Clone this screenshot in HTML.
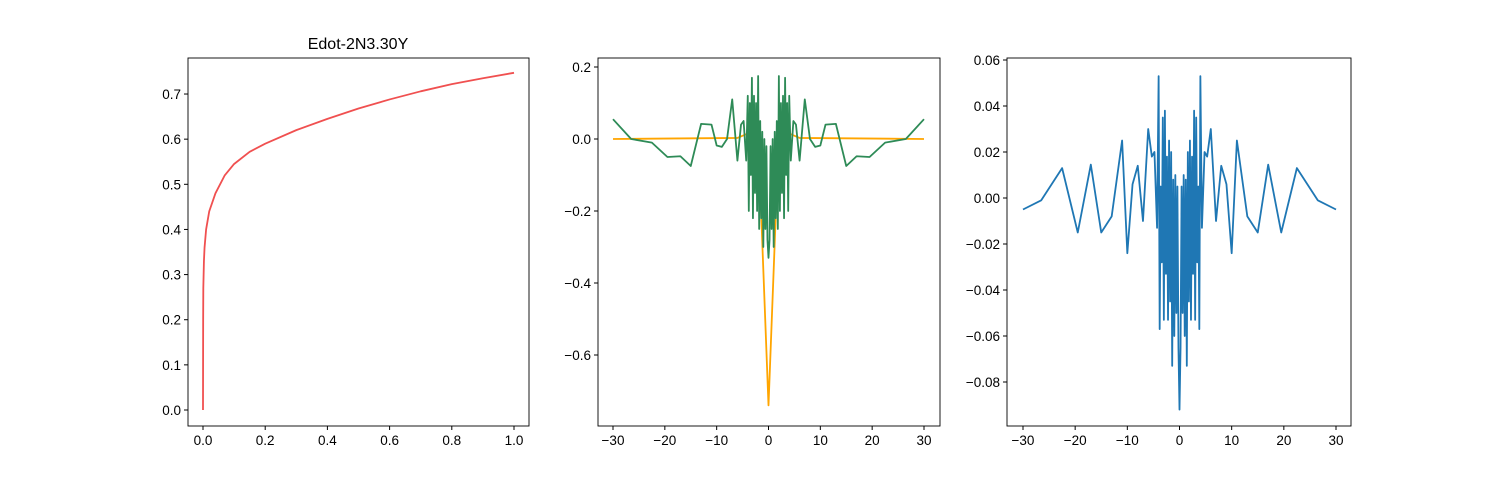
<!DOCTYPE html>
<html><head><meta charset="utf-8"><style>
body{margin:0;background:#fff}
svg text{font-family:"Liberation Sans","DejaVu Sans",sans-serif;font-size:13.5px;fill:#000}
</style></head><body>
<svg id="c" width="1500" height="480"></svg>
<script>
const p1x=[0,0.0005,0.001,0.003,0.005,0.01,0.02,0.04,0.07,0.1,0.15,0.2,0.3,0.4,0.5,0.6,0.7,0.8,0.9,1.0];
const p1y=[0,0.2,0.27,0.33,0.36,0.40,0.44,0.48,0.52,0.545,0.572,0.59,0.62,0.645,0.668,0.688,0.706,0.722,0.735,0.747];
const outerX=[-30,-26.5,-22.5,-19.5,-17,-15,-13,-11,-10,-9,-8,-7,-6,-5.3,-4.8,-4.3];
const innerX=[-4,-3.8,-3.6,-3.4,-3.2,-3,-2.8,-2.6,-2.4,-2.2,-2,-1.8,-1.6,-1.4,-1.2,-1,-0.8,-0.6,-0.4,-0.2];
const greenOuter=[0.055,0.0,-0.01,-0.05,-0.048,-0.075,0.042,0.04,-0.018,-0.022,0.0,0.11,-0.06,0.04,0.05,-0.06];
const greenInner=[0.12,-0.2,0.1,-0.1,0.17,-0.22,0.12,-0.15,0.1,-0.2,0.175,-0.25,0.05,-0.22,0.02,-0.3,0.0,-0.25,-0.02,-0.28];
const greenCenter=-0.33;
const orangeX=[-30,-6,-4,-3,-2,-1.3,0];
const orangeY=[0,0.003,0.015,0.03,0.02,-0.25,-0.74];
const blueOuter=[-0.005,-0.001,0.013,-0.015,0.0145,-0.015,-0.008,0.025,-0.024,0.006,0.014,-0.010,0.030,0.018,0.020,-0.013];
const blueInner=[0.053,-0.057,0.005,-0.028,0.035,-0.053,0.038,-0.033,0.018,-0.053,0.025,-0.045,0.02,-0.073,0.008,-0.06,0.01,-0.05,0.005,-0.065];
const blueCenter=-0.092;
const p1xt=[0,0.2,0.4,0.6,0.8,1.0], p1yt=[0,0.1,0.2,0.3,0.4,0.5,0.6,0.7];
const p2xt=[-30,-20,-10,0,10,20,30], p2yt=[0.2,0,-0.2,-0.4,-0.6];
const p3xt=[-30,-20,-10,0,10,20,30], p3yt=[0.06,0.04,0.02,0,-0.02,-0.04,-0.06,-0.08];

const S=document.getElementById('c'),NS='http://www.w3.org/2000/svg';
function el(t,a,p){const e=document.createElementNS(NS,t);for(const k in a)e.setAttribute(k,a[k]);(p||S).appendChild(e);return e;}
function mirror(o,i){return [...o,...i,0,...i.slice().reverse().map(v=>-v),...o.slice().reverse().map(v=>-v)];}
function mirrorY(o,i,c){return [...o,...i,c,...i.slice().reverse(),...o.slice().reverse()];}
function panel(name,L,T,R,B,sx,sy,xt,yt,fmtx,fmty){
  const g=el('g',{});
  
  
  xt.forEach(v=>{const x=sx(v);el('line',{x1:x,x2:x,y1:B,y2:B+4,stroke:'#000'},g);
    const t=el('text',{x:x,y:B+19,'text-anchor':'middle'},g);t.textContent=fmtx(v);
    });
  yt.forEach(v=>{const y=sy(v);el('line',{x1:L-4,x2:L,y1:y,y2:y,stroke:'#000'},g);
    const t=el('text',{x:L-7,y:y+5,'text-anchor':'end'},g);t.textContent=fmty(v);
    });
  return g;
}
function line(g,xs,ys,sx,sy,col,name){
  const p=el('polyline',{points:xs.map((x,i)=>sx(x)+','+sy(ys[i])).join(' '),fill:'none',stroke:col,'stroke-width':1.8,'stroke-linejoin':'round'},g);
  
}
function frame(g,L,T,R,B){const r=el('rect',{x:L,y:T,width:R-L,height:B-T,fill:'none',stroke:'#000','stroke-width':0.9},g);
  }
{const L=188,T=58,R=529,B=426;const sx=v=>203+v*311,sy=v=>410-v*451.4;
 const g=panel('left-panel',L,T,R,B,sx,sy,p1xt,p1yt,v=>v.toFixed(1),v=>v.toFixed(1));
 line(g,p1x,p1y,sx,sy,'#f05050','red-curve');frame(g,L,T,R,B);
 const t=el('text',{x:358,y:49,'text-anchor':'middle','style':'font-size:16px'},g);t.textContent='Edot-2N3.30Y';
 }
{const L=598,T=58,R=940,B=426;const sx=v=>768.5+v*5.183,sy=v=>139-v*360;
 const g=panel('middle-panel',L,T,R,B,sx,sy,p2xt,p2yt,v=>String(v).replace('-','\u2212'),v=>v.toFixed(1).replace('-','\u2212'));
 const ox=[...orangeX,...orangeX.slice(0,-1).reverse().map(v=>-v)],oy=[...orangeY,...orangeY.slice(0,-1).reverse()];
 line(g,ox,oy,sx,sy,'orange','orange-series');
 line(g,mirror(outerX,innerX),mirrorY(greenOuter,greenInner,greenCenter),sx,sy,'#2e8b57','green-series');frame(g,L,T,R,B);}
{const L=1007,T=58,R=1351,B=426;const sx=v=>1179.5+v*5.217,sy=v=>198-v*2300;
 const g=panel('right-panel',L,T,R,B,sx,sy,p3xt,p3yt,v=>String(v).replace('-','\u2212'),v=>v.toFixed(2).replace('-','\u2212'));
 line(g,mirror(outerX,innerX),mirrorY(blueOuter,blueInner,blueCenter),sx,sy,'#1f77b4','blue-series');frame(g,L,T,R,B);}
</script></body></html>
